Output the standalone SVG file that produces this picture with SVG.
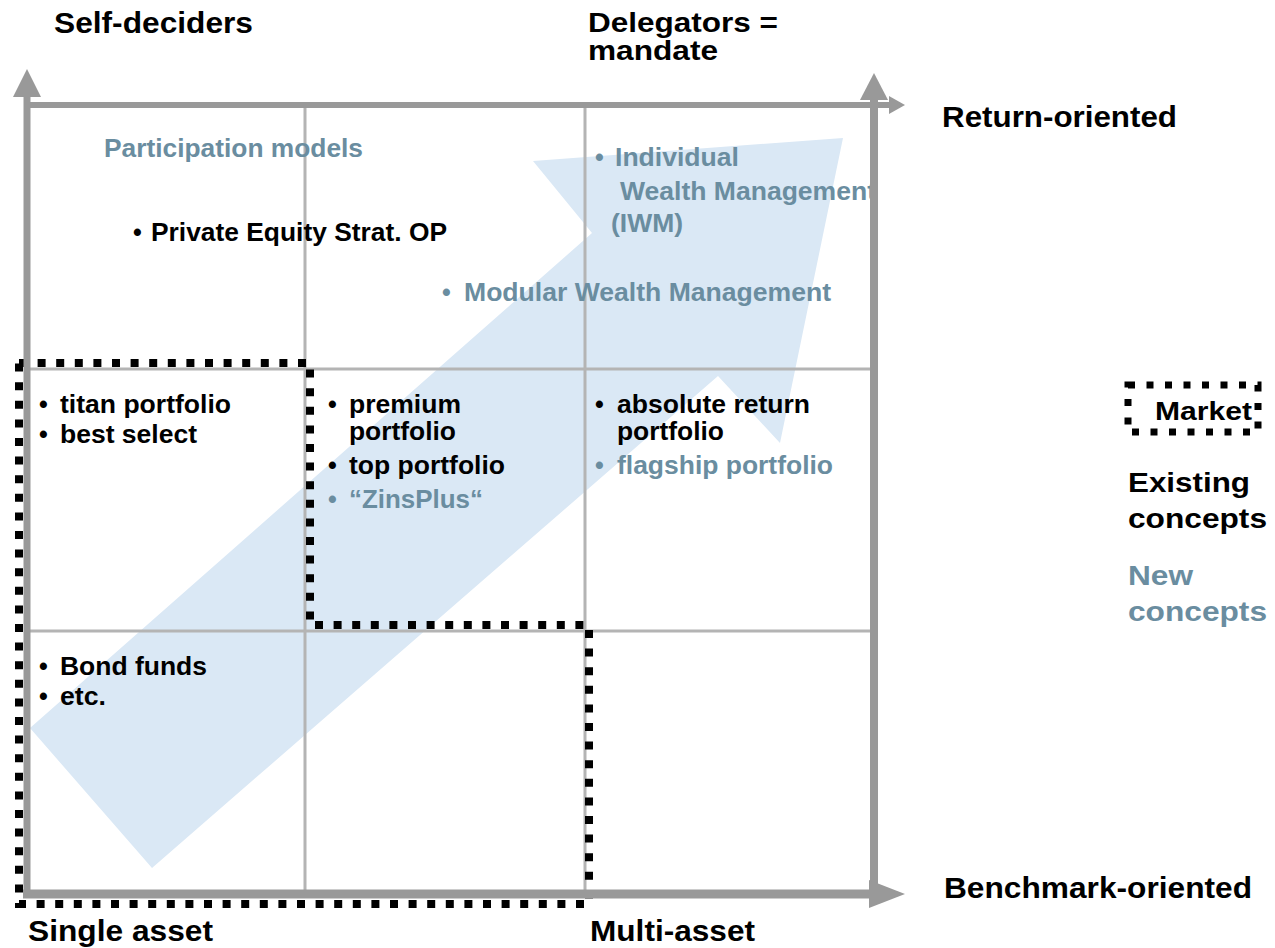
<svg xmlns="http://www.w3.org/2000/svg" width="1275" height="948" viewBox="0 0 1275 948">
<style>
text{font-family:"Liberation Sans",Arial,sans-serif;font-weight:bold}
.lab{font-size:29.5px;fill:#000}
.lab2{font-size:27px;fill:#000}
.in{font-size:25px;fill:#000}
.nw{fill:#6a8da0}
.leg{font-size:28.5px}
.grid{stroke:#b4b4b4;stroke-width:3;fill:none}
.axis{stroke:#999;fill:none}
.head{fill:#999}
.mkt{fill:none;stroke:#000;stroke-width:8;stroke-dasharray:8 10.6}
</style>
<rect width="1275" height="948" fill="#fff"/>
<g id="trend-arrow">
<polygon points="30,728 152,868 718,376 780,443 843,138 533,161 592,233" fill="#dae8f5"/>
</g>
<g id="grid">
<line class="grid" x1="305" y1="105" x2="305" y2="894"/>
<line class="grid" x1="585" y1="105" x2="585" y2="894"/>
<line class="grid" x1="27" y1="369" x2="874" y2="369"/>
<line class="grid" x1="27" y1="631" x2="874" y2="631"/>
</g>
<g id="market-boundary">
<path class="mkt" d="M19,363 H310 V625 H589 V904 H19 Z"/>
</g>
<g id="axis-labels">
<text class="lab" x="54" y="33" textLength="199" lengthAdjust="spacingAndGlyphs">Self-deciders</text>
<text class="lab2" x="588" y="32" textLength="190" lengthAdjust="spacingAndGlyphs">Delegators =</text>
<text class="lab2" x="588" y="60" textLength="130" lengthAdjust="spacingAndGlyphs">mandate</text>
<text class="lab" x="942" y="127" textLength="235" lengthAdjust="spacingAndGlyphs">Return-oriented</text>
<text class="lab" x="944" y="898" textLength="308" lengthAdjust="spacingAndGlyphs">Benchmark-oriented</text>
<text class="lab" x="28" y="941" textLength="185" lengthAdjust="spacingAndGlyphs">Single asset</text>
<text class="lab" x="590" y="941" textLength="165" lengthAdjust="spacingAndGlyphs">Multi-asset</text>
</g>
<g id="cell-top-left">
<text class="in nw" x="104" y="157" textLength="259" lengthAdjust="spacingAndGlyphs">Participation models</text>
<text class="in" x="133" y="241">•</text>
<text class="in" x="151" y="241" textLength="296" lengthAdjust="spacingAndGlyphs">Private Equity Strat. OP</text>
</g>
<g id="cell-top-right">
<text class="in nw" x="595" y="166">•</text>
<text class="in nw" x="615" y="166" textLength="124" lengthAdjust="spacingAndGlyphs">Individual</text>
<text class="in nw" x="620" y="200" textLength="256" lengthAdjust="spacingAndGlyphs">Wealth Management</text>
<text class="in nw" x="611" y="232" textLength="72" lengthAdjust="spacingAndGlyphs">(IWM)</text>
<text class="in nw" x="442" y="301">•</text>
<text class="in nw" x="464" y="301" textLength="367" lengthAdjust="spacingAndGlyphs">Modular Wealth Management</text>
</g>
<g id="cell-mid-left">
<text class="in" x="39" y="413">•</text>
<text class="in" x="60" y="413" textLength="171" lengthAdjust="spacingAndGlyphs">titan portfolio</text>
<text class="in" x="39" y="443">•</text>
<text class="in" x="60" y="443" textLength="137" lengthAdjust="spacingAndGlyphs">best select</text>
</g>
<g id="cell-mid-center">
<text class="in" x="328" y="413">•</text>
<text class="in" x="349" y="413" textLength="112" lengthAdjust="spacingAndGlyphs">premium</text>
<text class="in" x="349" y="440" textLength="107" lengthAdjust="spacingAndGlyphs">portfolio</text>
<text class="in" x="328" y="474">•</text>
<text class="in" x="349" y="474" textLength="156" lengthAdjust="spacingAndGlyphs">top portfolio</text>
<text class="in nw" x="328" y="508">•</text>
<text class="in nw" x="349" y="508" textLength="134" lengthAdjust="spacingAndGlyphs">“ZinsPlus“</text>
</g>
<g id="cell-mid-right">
<text class="in" x="595" y="413">•</text>
<text class="in" x="617" y="413" textLength="193" lengthAdjust="spacingAndGlyphs">absolute return</text>
<text class="in" x="617" y="440" textLength="107" lengthAdjust="spacingAndGlyphs">portfolio</text>
<text class="in nw" x="595" y="474">•</text>
<text class="in nw" x="617" y="474" textLength="216" lengthAdjust="spacingAndGlyphs">flagship portfolio</text>
</g>
<g id="cell-bottom-left">
<text class="in" x="39" y="675">•</text>
<text class="in" x="60" y="675" textLength="147" lengthAdjust="spacingAndGlyphs">Bond funds</text>
<text class="in" x="39" y="705">•</text>
<text class="in" x="60" y="705" textLength="46" lengthAdjust="spacingAndGlyphs">etc.</text>
</g>
<g id="axes">
<line class="axis" stroke-width="7" x1="27" y1="96" x2="27" y2="898"/>
<polygon class="head" points="13,97 27,69 41,97"/>
<line class="axis" stroke-width="6" x1="27" y1="105" x2="890" y2="105"/>
<polygon class="head" points="889,96 905,105 889,114"/>
<line class="axis" stroke-width="8" x1="874" y1="99" x2="874" y2="899"/>
<polygon class="head" points="860,100 874,73 888,100"/>
<line class="axis" stroke-width="9" x1="23" y1="894" x2="870" y2="894"/>
<polygon class="head" points="869,880 905,894 869,908"/>
</g>
<g id="legend">
<rect x="1128" y="385" width="130" height="47" fill="none" stroke="#000" stroke-width="7" stroke-dasharray="7 11.5"/>
<text class="in" x="1155" y="420" textLength="97" lengthAdjust="spacingAndGlyphs">Market</text>
<text class="leg" x="1128" y="492" fill="#000" textLength="122" lengthAdjust="spacingAndGlyphs">Existing</text>
<text class="leg" x="1128" y="528" fill="#000" textLength="139" lengthAdjust="spacingAndGlyphs">concepts</text>
<text class="leg nw" x="1128" y="585" textLength="65" lengthAdjust="spacingAndGlyphs">New</text>
<text class="leg nw" x="1128" y="621" textLength="139" lengthAdjust="spacingAndGlyphs">concepts</text>
</g>
</svg>
